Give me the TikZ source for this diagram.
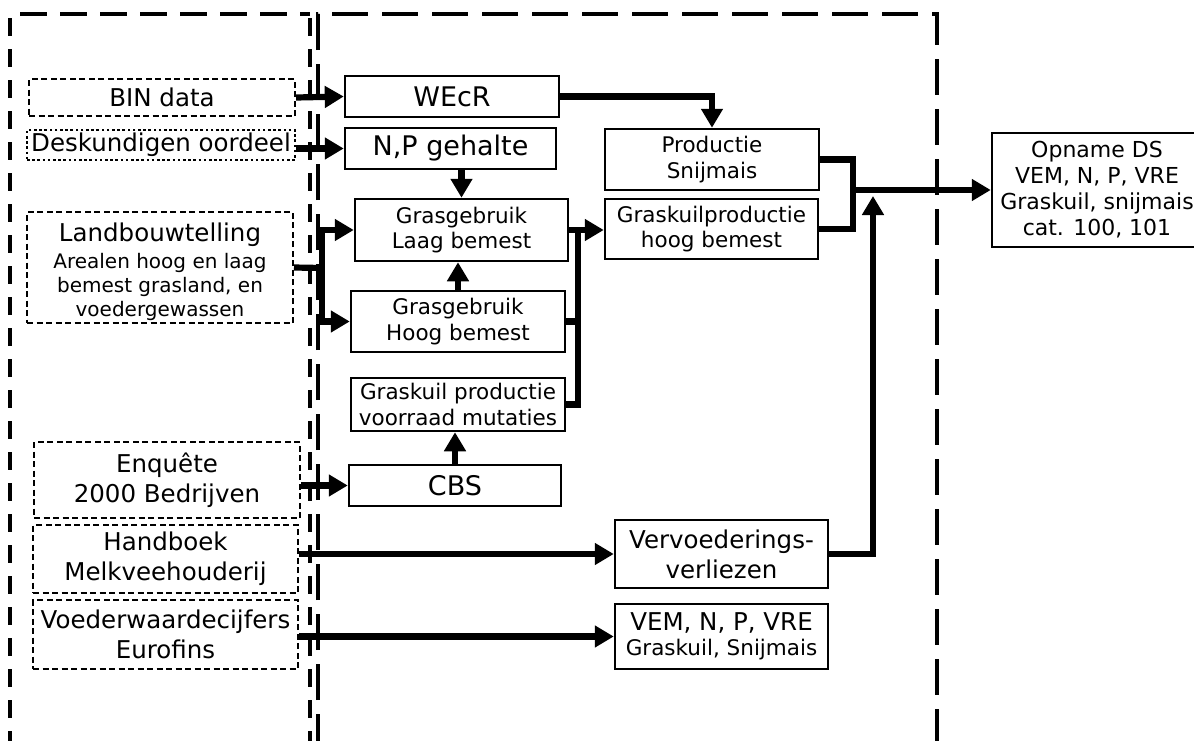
\documentclass[tikz,border=0pt]{standalone}
\usepackage{fontspec}
\setmainfont{DejaVu Sans}
\usetikzlibrary{arrows.meta}
\begin{document}
\begin{tikzpicture}[x=1pt,y=-1pt,
  every node/.style={inner sep=0pt, align=center},
  srcbox/.style={draw, line width=2pt, dash pattern=on 6pt off 3.5pt,
    font=\fontsize{24.5}{30}\selectfont},
  dotbox/.style={draw, line width=2.6pt, dash pattern=on 2.6pt off 2.6pt,
    font=\fontsize{24.5}{30}\selectfont},
  procbox/.style={draw, line width=2.5pt, font=\fontsize{21.5}{25.5}\selectfont},
  bigbox/.style={procbox, font=\fontsize{27}{30}\selectfont},
  midbox/.style={procbox, font=\fontsize{24.5}{30}\selectfont},
  conn/.style={line width=6.2pt, line join=miter},
  arr/.style={conn, -{Triangle[length=19pt,width=21pt]}},
  framelineA/.style={line width=4pt},
  framelineB/.style={line width=4pt, dash pattern=on 36pt off 14pt},
]
\useasboundingbox (0,0) rectangle (1194,740);

% outer frame: sources column
\draw[framelineA, dash pattern=on 27pt off 13pt] (20,14) -- (310,14);
\draw[framelineA, dash pattern=on 18pt off 13pt] (10,18) -- (10,750);
\draw[framelineA, dash pattern=on 18pt off 13pt] (310,18) -- (310,750);
% outer frame: processing column
\draw[framelineB] (318,750) -- (318,14) -- (937,14) -- (937,750);

% sources
\node[srcbox, minimum width=266pt, minimum height=37pt] (bin) at (162,97.5) {BIN data};
\node[dotbox, minimum width=268pt, minimum height=30pt] (desk) at (161,145) {Deskundigen oordeel};
\node[srcbox, minimum width=266pt, minimum height=111pt, font=\fontsize{20}{24}\selectfont] (land) at (160,267.5)
  {{\fontsize{24.5}{28}\selectfont\rule{0pt}{27pt}Landbouwtelling}\\[3pt]Arealen hoog en laag\\bemest grasland, en\\voedergewassen};
\node[srcbox, minimum width=266pt, minimum height=76pt] (enq) at (167,480) {Enquête\\2000 Bedrijven};
\node[srcbox, minimum width=265pt, minimum height=68pt] (hand) at (165.5,559) {Handboek\\Melkveehouderij};
\node[srcbox, minimum width=265pt, minimum height=69pt] (voed) at (165.5,634.5) {Voederwaardecijfers\\Eurofins};

% processing steps
\node[bigbox, minimum width=214pt, minimum height=41pt] (wecr) at (452,96.5) {WEcR};
\node[bigbox, minimum width=211pt, minimum height=41pt] (np) at (450.5,148.5) {N,P gehalte};
\node[procbox, minimum width=213pt, minimum height=62pt] (laag) at (461.5,230) {Grasgebruik\\Laag bemest};
\node[procbox, minimum width=214pt, minimum height=61pt] (hoog) at (458,321.5) {Grasgebruik\\Hoog bemest};
\node[procbox, minimum width=214pt, minimum height=53pt] (vrd) at (458,404.5) {Graskuil productie\\voorraad mutaties};
\node[bigbox, minimum width=212pt, minimum height=41pt] (cbs) at (455,485.5) {CBS};
\node[procbox, minimum width=214pt, minimum height=61pt] (prod) at (712,159.5) {Productie\\Snijmais};
\node[procbox, minimum width=213pt, minimum height=60pt] (gkp) at (711.5,229) {Graskuilproductie\\hoog bemest};
\node[midbox, minimum width=213pt, minimum height=68pt] (verv) at (721.5,554) {Vervoederings-\\verliezen};
\node[procbox, minimum width=213pt, minimum height=65pt] (vem) at (721.5,636.5)
  {{\fontsize{24.5}{28}\selectfont VEM, N, P, VRE}\\Graskuil, Snijmais};
\node[procbox, minimum width=210pt, minimum height=114pt, font=\fontsize{22}{26}\selectfont] (opn) at (1097,190)
  {Opname DS\\VEM, N, P, VRE\\Graskuil, snijmais\\cat. 100, 101};

% bus points
\coordinate (lbus) at (322,268);
\coordinate (gbus) at (578,230);
\coordinate (pbus) at (853,190);
\coordinate (vtip) at (873,196);

% connectors
\draw[arr] (bin.east) -- (wecr.west);
\draw[arr] (desk.east |- np.west) -- (np.west);
\draw[arr] (wecr.east) -| (prod.north);
\draw[arr] (np.south -| laag.north) -- (laag.north);
\draw[arr] (hoog.north) -- (hoog.north |- laag.south);
\draw[arr] (cbs.north) -- (cbs.north |- vrd.south);

\draw[conn] (land.east) -- (lbus);
\draw[conn] (lbus |- laag.west) -- (lbus |- hoog.west);
\draw[arr] ([xshift=-3.1pt]lbus |- laag.west) -- (laag.west);
\draw[arr] ([xshift=-3.1pt]lbus |- hoog.west) -- (hoog.west);

\draw[arr] (laag.east) -- (gkp.west |- laag.east);
\draw[conn] (gbus) -- (gbus |- vrd.east);
\draw[conn] (hoog.east) -- ([xshift=3.1pt]gbus |- hoog.east);
\draw[conn] (vrd.east) -- ([xshift=3.1pt]gbus |- vrd.east);

\draw[conn] (prod.east) -- (pbus |- prod.east) -- (pbus |- gkp.east) -- (gkp.east);
\draw[arr] (pbus) -- (opn.west);
\draw[arr] (verv.east) -| (vtip);

\draw[arr] (enq.east |- cbs.west) -- (cbs.west);
\draw[arr] (hand.east |- verv.west) -- (verv.west);
\draw[arr] (voed.east |- vem.west) -- (vem.west);
\end{tikzpicture}
\end{document}
